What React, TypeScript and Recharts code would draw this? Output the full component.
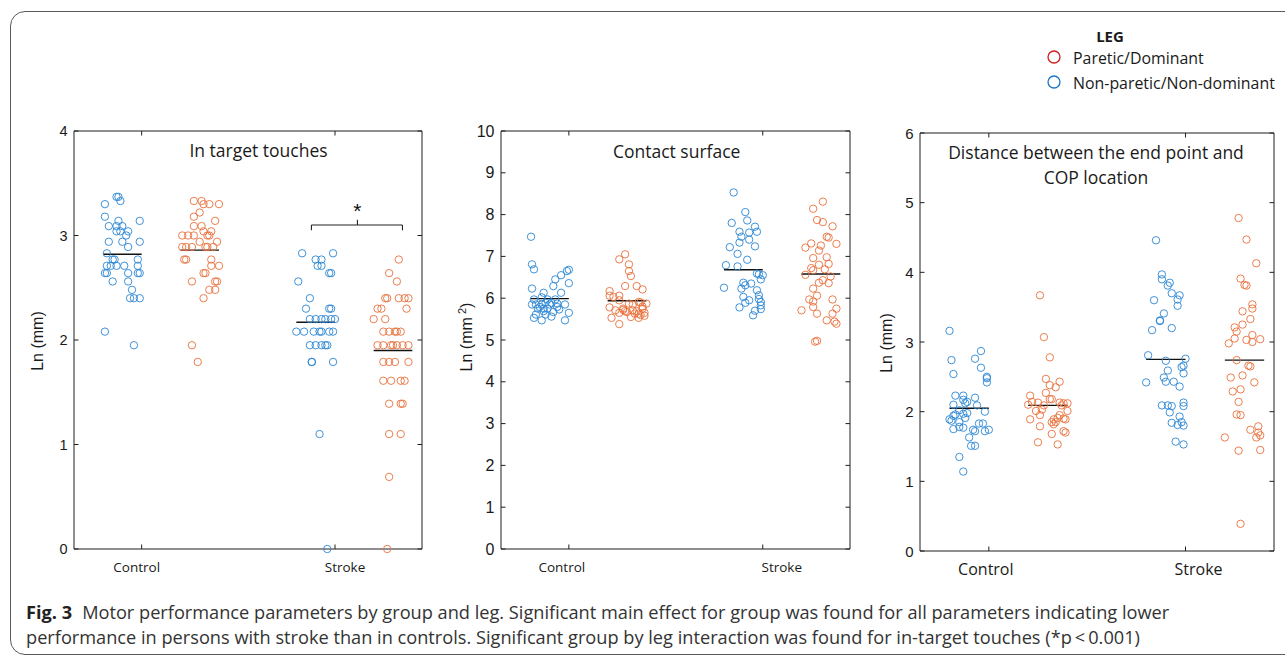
import React from 'react';
import {
  ScatterChart,
  Scatter,
  XAxis,
  YAxis,
  ReferenceLine,
  ReferenceArea,
  ReferenceDot,
} from 'recharts';

const BLUE = '#2a86d4';
const RED = '#e8703c';
const AXIS = '#1e1e1e';
const SANS = '"Open Sans", "Noto Sans", sans-serif';
const ARIAL = '"Liberation Sans", Arial, sans-serif';

const groupLabels = ['Control', 'Stroke'];
const groupTicks = [1, 2];
// x centre of each leg cloud: control non-paretic, control paretic, stroke non-paretic, stroke paretic
const groupCenters = [0.9, 1.3, 1.9, 2.3];

// ---- In target touches (ln of counts) ----
const touchCtrlNP = [3.37, 3.37, 3.30, 3.33, 3.18, 3.14, 3.14, 3.09, 3.09, 3.09, 3.04, 3.04, 3.04, 3.00, 2.94, 2.94, 2.94, 2.89, 2.83, 2.77, 2.77, 2.77, 2.71, 2.71, 2.71, 2.71, 2.71, 2.64, 2.64, 2.64, 2.64, 2.64, 2.56, 2.56, 2.48, 2.40, 2.40, 2.40, 2.08, 1.95];
const touchCtrlNPJit = [-0.03, -0.02, -0.09, -0.01, -0.09, 0.09, -0.02, -0.07, -0.03, 0.00, -0.03, -0.01, 0.03, 0.02, -0.07, 0.00, 0.09, 0.03, -0.08, -0.05, -0.04, 0.08, -0.08, -0.06, -0.03, 0.01, 0.08, -0.09, -0.08, 0.03, 0.08, 0.09, -0.05, 0.03, 0.05, 0.04, 0.06, 0.09, -0.09, 0.06];
const touchCtrlP = [3.33, 3.33, 3.30, 3.30, 3.30, 3.22, 3.18, 3.14, 3.09, 3.09, 3.04, 3.04, 3.00, 3.00, 3.00, 3.00, 3.00, 2.94, 2.94, 2.89, 2.89, 2.89, 2.89, 2.89, 2.89, 2.77, 2.77, 2.77, 2.71, 2.71, 2.64, 2.64, 2.56, 2.56, 2.56, 2.48, 2.48, 2.40, 1.95, 1.79];
const touchCtrlPJit = [-0.03, 0.01, 0.02, 0.05, 0.10, 0.00, -0.03, 0.08, -0.03, 0.01, 0.02, 0.06, -0.09, -0.06, -0.03, 0.04, 0.05, 0.00, 0.09, -0.09, -0.07, -0.04, 0.03, 0.04, 0.07, -0.08, -0.07, 0.06, 0.06, 0.10, 0.02, 0.03, -0.04, 0.08, 0.09, 0.05, 0.08, 0.02, -0.04, -0.01];
const touchStrokeNP = [2.83, 2.83, 2.77, 2.77, 2.71, 2.71, 2.64, 2.64, 2.56, 2.40, 2.30, 2.30, 2.30, 2.20, 2.20, 2.20, 2.20, 2.20, 2.20, 2.08, 2.08, 2.08, 2.08, 2.08, 2.08, 2.08, 1.95, 1.95, 1.95, 1.95, 1.95, 1.79, 1.79, 1.79, 1.10, 0.00];
const touchStrokeNPJit = [-0.07, 0.09, 0.00, 0.03, 0.01, 0.03, 0.07, 0.08, -0.09, -0.03, -0.05, 0.07, 0.08, -0.03, 0.00, 0.03, 0.05, 0.08, 0.10, -0.10, -0.06, -0.01, 0.02, 0.03, 0.07, 0.09, -0.03, 0.00, 0.03, 0.05, 0.06, -0.02, -0.02, 0.09, 0.02, 0.06];
const touchStrokeP = [2.77, 2.64, 2.56, 2.40, 2.40, 2.40, 2.40, 2.40, 2.30, 2.30, 2.30, 2.20, 2.20, 2.08, 2.08, 2.08, 2.08, 2.08, 1.95, 1.95, 1.95, 1.95, 1.95, 1.95, 1.95, 1.79, 1.79, 1.79, 1.79, 1.61, 1.61, 1.61, 1.61, 1.39, 1.39, 1.39, 1.10, 1.10, 0.69, 0.00];
const touchStrokePJit = [0.03, -0.02, 0.02, -0.04, -0.03, 0.03, 0.06, 0.08, -0.08, -0.06, 0.07, -0.10, -0.04, -0.05, -0.02, 0.01, 0.02, 0.04, -0.08, -0.05, -0.01, 0.00, 0.02, 0.05, 0.08, -0.05, -0.02, 0.01, 0.08, -0.05, -0.01, 0.04, 0.06, -0.02, 0.04, 0.05, -0.02, 0.04, -0.02, -0.03];
const touchMeans = [2.82, 2.86, 2.17, 1.90];

// ---- Contact surface (ln mm2) ----
const surfCtrlNP = [7.47, 6.81, 6.69, 6.68, 6.65, 6.55, 6.45, 6.36, 6.29, 6.23, 6.13, 6.13, 5.97, 5.97, 5.97, 5.85, 5.85, 5.85, 5.85, 5.85, 5.75, 5.75, 5.75, 5.79, 5.69, 5.67, 5.61, 5.61, 5.65, 5.47, 5.53, 5.47, 5.89, 5.87, 5.79, 5.56, 5.89, 5.73, 6.02];
const surfCtrlNPJit = [-0.095, -0.09, -0.08, 0.10, 0.09, 0.06, 0.03, 0.10, 0.02, -0.09, -0.03, 0.06, -0.08, -0.01, 0.03, -0.09, -0.07, -0.04, 0.00, 0.08, -0.06, -0.03, -0.01, 0.04, -0.03, 0.02, -0.07, -0.02, 0.10, 0.08, -0.08, -0.04, 0.01, 0.04, -0.05, 0.01, -0.02, 0.05, -0.04];
const surfCtrlP = [7.05, 6.93, 6.81, 6.65, 6.53, 6.29, 6.29, 6.21, 6.17, 6.06, 6.06, 6.03, 5.95, 5.91, 5.90, 5.87, 5.87, 5.78, 5.71, 5.75, 5.69, 5.71, 5.69, 5.75, 5.65, 5.65, 5.63, 5.63, 5.53, 5.55, 5.53, 5.58, 5.38, 5.60, 5.80, 5.72, 5.85, 5.67];
const surfCtrlPJit = [-0.01, -0.04, 0.01, 0.01, 0.02, -0.01, 0.05, 0.08, -0.09, -0.09, -0.04, -0.07, -0.04, 0.06, 0.07, 0.10, 0.01, -0.09, -0.06, -0.02, -0.01, 0.03, 0.05, 0.08, 0.09, -0.04, 0.04, 0.06, -0.08, 0.02, 0.06, 0.09, -0.04, 0.07, 0.08, -0.02, 0.03, 0.00];
const surfStrokeNP = [8.53, 8.06, 7.80, 7.86, 7.71, 7.59, 7.57, 7.59, 7.47, 7.40, 7.33, 7.22, 7.24, 7.06, 6.92, 6.79, 6.76, 6.59, 6.57, 6.55, 6.45, 6.25, 6.37, 6.31, 6.35, 6.23, 6.19, 6.07, 6.03, 5.98, 5.95, 5.89, 5.91, 5.83, 5.78, 5.70, 5.59, 5.74];
const surfStrokeNPJit = [-0.05, 0.01, -0.06, 0.02, 0.06, -0.02, 0.03, 0.07, -0.01, 0.03, -0.02, -0.07, 0.06, -0.03, 0.02, -0.09, -0.03, 0.07, 0.08, 0.10, 0.09, -0.10, 0.00, 0.01, 0.04, -0.01, 0.07, 0.08, 0.00, 0.08, 0.03, 0.01, 0.09, 0.09, -0.02, 0.06, 0.05, 0.09];
const surfStrokeP = [8.31, 8.14, 7.87, 7.82, 7.72, 7.47, 7.45, 7.31, 7.30, 7.21, 7.26, 7.14, 6.96, 6.98, 6.80, 6.82, 6.72, 6.69, 6.67, 6.56, 6.52, 6.43, 6.36, 6.37, 6.23, 6.06, 5.97, 5.97, 5.92, 5.75, 5.71, 5.79, 5.63, 5.63, 5.47, 5.44, 5.39, 4.96, 4.98];
const surfStrokePJit = [0.01, -0.04, -0.02, 0.01, 0.06, 0.03, 0.04, -0.05, 0.08, -0.08, 0.00, -0.01, -0.04, 0.03, -0.01, 0.04, -0.05, 0.02, -0.04, -0.08, 0.05, 0.01, 0.04, -0.01, -0.04, -0.02, -0.06, 0.06, -0.04, 0.08, -0.10, -0.04, -0.02, 0.06, 0.03, 0.07, 0.08, -0.03, -0.02];
const surfMeans = [5.99, 5.94, 6.68, 6.58];

// ---- Distance end point / COP (ln mm) ----
const distCtrlNP = [3.16, 2.74, 2.54, 2.87, 2.76, 2.63, 2.50, 2.48, 2.42, 2.23, 2.23, 2.20, 2.17, 2.14, 2.12, 2.10, 2.09, 2.02, 2.00, 1.98, 1.97, 1.96, 1.94, 1.91, 1.89, 1.87, 1.85, 1.83, 1.83, 1.78, 1.77, 1.75, 1.74, 1.72, 1.72, 1.74, 1.63, 1.51, 1.51, 1.35, 1.14];
const distCtrlNPJit = [-0.10, -0.09, -0.08, 0.06, 0.03, 0.06, 0.09, 0.09, 0.09, -0.07, -0.03, 0.03, -0.03, -0.01, -0.02, -0.08, 0.04, -0.05, 0.08, -0.01, -0.03, -0.07, -0.08, -0.02, -0.10, -0.09, -0.05, 0.05, 0.07, -0.05, -0.03, -0.08, 0.02, 0.03, 0.08, 0.10, 0.00, 0.01, 0.03, -0.05, -0.03];
const distCtrlP = [3.67, 3.07, 2.78, 2.47, 2.43, 2.38, 2.35, 2.27, 2.23, 2.18, 2.18, 2.14, 2.13, 2.13, 2.12, 2.12, 2.10, 2.09, 2.09, 2.03, 2.01, 2.01, 1.95, 1.95, 1.91, 1.89, 1.90, 1.89, 1.89, 1.85, 1.85, 1.82, 1.79, 1.72, 1.70, 1.68, 1.56, 1.53];
const distCtrlPJit = [-0.04, -0.02, 0.01, -0.01, 0.06, 0.01, 0.04, -0.01, -0.09, 0.02, 0.01, -0.08, -0.05, 0.06, 0.08, 0.10, -0.10, -0.02, 0.07, -0.03, -0.06, 0.10, -0.04, 0.06, 0.05, 0.03, 0.08, 0.09, -0.09, 0.02, 0.04, 0.03, -0.04, 0.08, 0.09, 0.02, -0.05, 0.05];
const distStrokeNP = [4.46, 3.97, 3.90, 3.85, 3.81, 3.70, 3.67, 3.61, 3.60, 3.52, 3.41, 3.31, 3.30, 3.20, 3.17, 2.81, 2.76, 2.73, 2.66, 2.64, 2.59, 2.55, 2.49, 2.43, 2.43, 2.42, 2.36, 2.09, 2.09, 2.08, 2.13, 2.08, 1.99, 1.93, 1.85, 1.84, 1.81, 1.80, 1.57, 1.53];
const distStrokeNPJit = [-0.05, -0.02, -0.02, 0.02, 0.01, 0.03, 0.07, 0.06, -0.06, 0.06, -0.01, -0.03, -0.03, 0.03, -0.07, -0.09, 0.10, 0.00, 0.09, 0.08, 0.01, 0.09, -0.01, 0.00, 0.04, -0.10, 0.07, -0.02, 0.01, 0.03, 0.09, 0.09, 0.02, 0.07, 0.08, 0.03, 0.06, 0.09, 0.05, 0.09];
const distStrokeP = [4.78, 4.47, 4.13, 3.91, 3.82, 3.81, 3.54, 3.48, 3.44, 3.33, 3.25, 3.21, 3.15, 3.10, 3.05, 3.03, 3.04, 3.00, 2.98, 2.74, 2.66, 2.65, 2.52, 2.49, 2.42, 2.29, 2.32, 2.14, 1.96, 1.95, 1.79, 1.74, 1.70, 1.66, 1.63, 1.63, 1.44, 1.45, 0.39];
const distStrokePJit = [-0.03, 0.01, 0.06, -0.02, 0.00, 0.01, 0.04, 0.04, -0.01, 0.03, -0.01, -0.05, -0.04, 0.04, -0.05, 0.01, 0.08, 0.04, -0.08, -0.04, 0.02, 0.03, -0.01, -0.07, 0.05, -0.06, -0.02, -0.03, -0.04, -0.02, 0.07, 0.03, 0.07, 0.08, 0.06, -0.10, -0.03, 0.08, -0.02];
const distMeans = [2.05, 2.09, 2.75, 2.74];

const X_DOMAIN: [number, number] = [0.65, 2.45];
const MEAN_HALF = 0.1;

type Box = { l: number; t: number; r: number; b: number };
type Panel = {
  key: string;
  box: Box;
  yMax: number;
  tickFont: number;
  xFont: number;
  xShift: number[];
  series: number[][];
  jitter: number[][];
  means: number[];
  bracket?: boolean;
};

const panels: Panel[] = [
  {
    key: 'touch',
    box: { l: 73.5, t: 130.5, r: 421.5, b: 548.5 },
    yMax: 4,
    tickFont: 14.5,
    xFont: 13.5,
    xShift: [-5, 10],
    series: [touchCtrlNP, touchCtrlP, touchStrokeNP, touchStrokeP],
    jitter: [touchCtrlNPJit, touchCtrlPJit, touchStrokeNPJit, touchStrokePJit],
    means: touchMeans,
    bracket: true,
  },
  {
    key: 'surf',
    box: { l: 500.5, t: 130.5, r: 849.5, b: 548.5 },
    yMax: 10,
    tickFont: 16,
    xFont: 13.5,
    xShift: [-7, 19],
    series: [surfCtrlNP, surfCtrlP, surfStrokeNP, surfStrokeP],
    jitter: [surfCtrlNPJit, surfCtrlPJit, surfStrokeNPJit, surfStrokePJit],
    means: surfMeans,
  },
  {
    key: 'dist',
    box: { l: 919.5, t: 132.5, r: 1273.5, b: 550.5 },
    yMax: 6,
    tickFont: 15,
    xFont: 16,
    xShift: [-3, 13],
    series: [distCtrlNP, distCtrlP, distStrokeNP, distStrokeP],
    jitter: [distCtrlNPJit, distCtrlPJit, distStrokeNPJit, distStrokePJit],
    means: distMeans,
  },
];

const seriesColors = [BLUE, RED, BLUE, RED];

const PAD_L = 60;
const PAD_T = 10;
const PAD_R = 10;
const PAD_B = 40;

function openCircle(color: string) {
  return (p: any) => (
    <circle cx={p.cx} cy={p.cy} r={3.7} fill="none" stroke={color} strokeWidth={0.9} />
  );
}

function PanelChart({ panel }: { panel: Panel }) {
  const { box } = panel;
  const plotW = box.r - box.l;
  const plotH = box.b - box.t;
  const plotLeft = PAD_L;
  const plotRight = PAD_L + plotW;
  const plotTop = PAD_T;
  const plotBottom = PAD_T + plotH;
  const yTicks = Array.from({ length: panel.yMax + 1 }, (_, i) => i);

  const yTick = (props: any) => {
    const { y, payload } = props;
    return (
      <g>
        <line x1={plotLeft} x2={plotLeft + 4.5} y1={y} y2={y} stroke={AXIS} />
        <line x1={plotRight - 4.5} x2={plotRight} y1={y} y2={y} stroke={AXIS} />
        <text
          x={plotLeft - 6.5}
          y={y}
          textAnchor="end"
          dominantBaseline="central"
          fontSize={panel.tickFont}
          fontFamily={ARIAL}
          fill="#1a1a1a"
        >
          {payload.value}
        </text>
      </g>
    );
  };

  const xTick = (props: any) => {
    const { x, payload, index } = props;
    return (
      <g>
        <line x1={x} x2={x} y1={plotBottom} y2={plotBottom - 4.5} stroke={AXIS} />
        <line x1={x} x2={x} y1={plotTop} y2={plotTop + 4.5} stroke={AXIS} />
        <text
          x={x + panel.xShift[index]}
          y={plotBottom + 17.5}
          textAnchor="middle"
          dominantBaseline="central"
          fontSize={panel.xFont}
          fontFamily={SANS}
          fill="#1a1a1a"
        >
          {groupLabels[groupTicks.indexOf(payload.value)]}
        </text>
      </g>
    );
  };

  return (
    <div style={{ position: 'absolute', left: box.l - PAD_L, top: box.t - PAD_T }}>
      <ScatterChart
        width={plotW + PAD_L + PAD_R}
        height={plotH + PAD_T + PAD_B}
        margin={{ top: PAD_T, right: PAD_R, bottom: 0, left: 0 }}
      >
        <XAxis
          type="number"
          dataKey="x"
          domain={X_DOMAIN}
          ticks={groupTicks}
          height={PAD_B}
          axisLine={false}
          tickLine={false}
          tick={xTick}
          interval={0}
        />
        <YAxis
          type="number"
          dataKey="y"
          domain={[0, panel.yMax]}
          ticks={yTicks}
          width={PAD_L}
          axisLine={false}
          tickLine={false}
          tick={yTick}
          interval={0}
        />
        <ReferenceArea
          x1={X_DOMAIN[0]}
          x2={X_DOMAIN[1]}
          y1={0}
          y2={panel.yMax}
          fill="none"
          stroke={AXIS}
          strokeWidth={1}
          ifOverflow="visible"
        />
        {panel.series.map((ys, gi) => (
          <Scatter
            key={`${panel.key}-${gi}`}
            data={ys.map((y, i) => ({ x: groupCenters[gi] + panel.jitter[gi][i], y }))}
            shape={openCircle(seriesColors[gi])}
            isAnimationActive={false}
          />
        ))}
        {panel.means.map((m, gi) => (
          <ReferenceLine
            key={`${panel.key}-mean-${gi}`}
            segment={[
              { x: groupCenters[gi] - MEAN_HALF, y: m },
              { x: groupCenters[gi] + MEAN_HALF, y: m },
            ]}
            stroke="#111"
            strokeWidth={1.4}
          />
        ))}
        {panel.bracket && (
          <>
            <ReferenceLine segment={[{ x: 1.878, y: 3.1 }, { x: 2.349, y: 3.1 }]} stroke="#222" strokeWidth={1.1} />
            <ReferenceLine segment={[{ x: 1.878, y: 3.1 }, { x: 1.878, y: 3.05 }]} stroke="#222" strokeWidth={1.1} />
            <ReferenceLine segment={[{ x: 2.349, y: 3.1 }, { x: 2.349, y: 3.05 }]} stroke="#222" strokeWidth={1.1} />
            <ReferenceLine segment={[{ x: 2.116, y: 3.1 }, { x: 2.116, y: 3.15 }]} stroke="#222" strokeWidth={1.1} />
            <ReferenceDot
              x={2.116}
              y={3.26}
              r={0}
              shape={(p: any) => (
                <text x={p.cx} y={p.cy + 10} textAnchor="middle" fontSize={21} fontFamily={ARIAL} fill="#111">
                  *
                </text>
              )}
            />
          </>
        )}
      </ScatterChart>
    </div>
  );
}

const titleStyle: React.CSSProperties = {
  position: 'absolute',
  width: 420,
  textAlign: 'center',
  fontFamily: SANS,
  fontSize: 17.5,
  lineHeight: '24.4px',
  color: '#1a1a1a',
  whiteSpace: 'nowrap',
};

const yLabelStyle: React.CSSProperties = {
  position: 'absolute',
  transform: 'translate(-50%, -50%) rotate(-90deg)',
  fontFamily: ARIAL,
  fontSize: 16,
  color: '#1a1a1a',
  whiteSpace: 'nowrap',
};

function LegendRow({ color, label, cy }: { color: string; label: string; cy: number }) {
  return (
    <>
      <svg style={{ position: 'absolute', left: 1046, top: cy - 8 }} width={16} height={16}>
        <circle cx={8} cy={8} r={6} fill="none" stroke={color} strokeWidth={1.3} />
      </svg>
      <div
        style={{
          position: 'absolute',
          left: 1073,
          top: cy - 9,
          fontFamily: SANS,
          fontSize: 15.9,
          lineHeight: '20px',
          color: '#1a1a1a',
          whiteSpace: 'nowrap',
        }}
      >
        {label}
      </div>
    </>
  );
}

export default function App() {
  return (
    <div
      style={{
        position: 'fixed',
        left: 0,
        top: 0,
        width: 1285,
        height: 655,
        overflow: 'hidden',
        background: '#fff',
      }}
    >
      <div
        style={{
          position: 'absolute',
          left: 10,
          top: 11,
          width: 1320,
          height: 642,
          border: '1px solid #5a5a5a',
          borderRadius: 15,
        }}
      />

      {/* legend */}
      <div
        style={{
          position: 'absolute',
          left: 1070,
          width: 80,
          top: 26,
          textAlign: 'center',
          fontFamily: SANS,
          fontWeight: 700,
          fontSize: 15,
          lineHeight: '20px',
          color: '#1a1a1a',
        }}
      >
        LEG
      </div>
      <LegendRow color="#d01c1c" label="Paretic/Dominant" cy={57} />
      <LegendRow color="#1a75c9" label="Non-paretic/Non-dominant" cy={82} />

      {panels.map((p) => (
        <PanelChart key={p.key} panel={p} />
      ))}

      {/* panel titles */}
      <div style={{ ...titleStyle, left: 258.5 - 210, top: 150 - 12.2 }}>In target touches</div>
      <div style={{ ...titleStyle, left: 676.7 - 210, top: 151 - 12.2 }}>Contact surface</div>
      <div style={{ ...titleStyle, left: 1096 - 210, top: 152.3 - 12.2 }}>
        Distance between the end point and
        <br />
        COP location
      </div>

      {/* y axis labels */}
      <div style={{ ...yLabelStyle, left: 38, top: 341 }}>Ln (mm)</div>
      <div style={{ ...yLabelStyle, left: 466, top: 337 }}>
        Ln (mm<sup style={{ fontSize: 11, verticalAlign: '6px' }}> 2</sup>)
      </div>
      <div style={{ ...yLabelStyle, left: 886.7, top: 343 }}>Ln (mm)</div>

      {/* caption */}
      <div
        style={{
          position: 'absolute',
          left: 26,
          top: 600,
          fontFamily: SANS,
          fontSize: 18.2,
          lineHeight: '25px',
          color: '#333',
          whiteSpace: 'nowrap',
        }}
      >
        <span style={{ fontWeight: 700, color: '#222', marginRight: 10 }}>Fig. 3</span>
        Motor performance parameters by group and leg. Significant main effect for group was found for all parameters indicating lower
        <br />
        performance in persons with stroke than in controls. Significant group by leg interaction was found for in-target touches (*p&thinsp;&lt;&thinsp;0.001)
      </div>
    </div>
  );
}
